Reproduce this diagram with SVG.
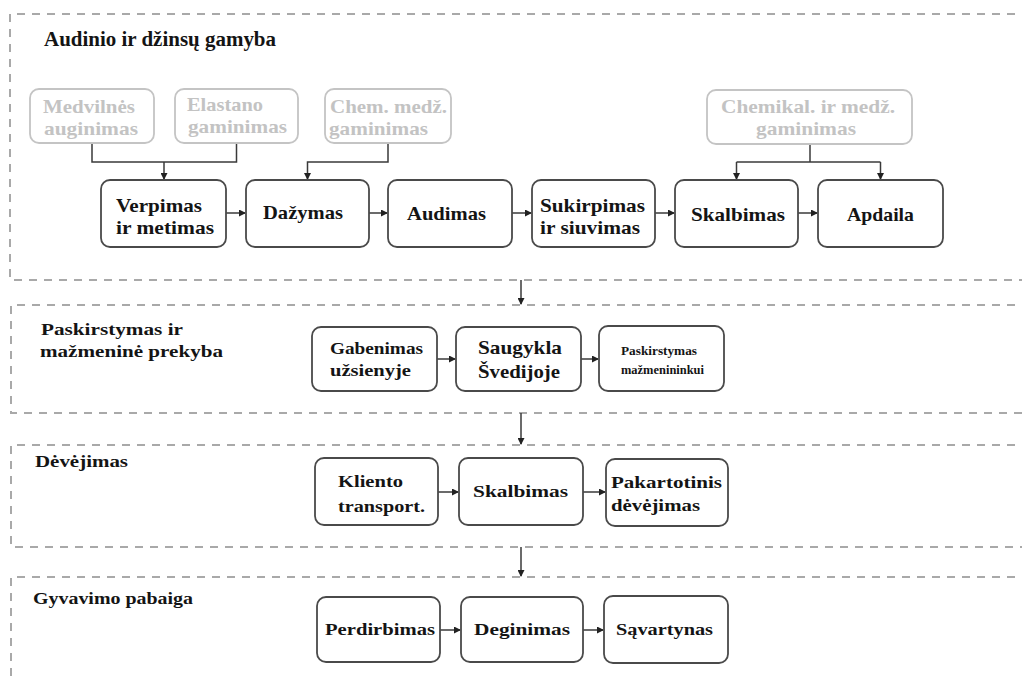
<svg xmlns="http://www.w3.org/2000/svg" width="1022" height="677" viewBox="0 0 1022 677">
  <style>
    .frame { fill: none; stroke: #a9a9a9; stroke-width: 2; stroke-dasharray: 8 7; }
    .box { fill: #ffffff; stroke: #4a4a4a; stroke-width: 1.8; }
    .src { fill: #ffffff; stroke: #c4c4c4; stroke-width: 1.8; }
    .lbl { font-family: "Liberation Serif", "Times New Roman", serif; font-weight: bold; fill: #141414; }
    .glbl { font-family: "Liberation Serif", "Times New Roman", serif; font-weight: bold; fill: #c3c3c3; }
    .title { font-family: "Liberation Serif", "Times New Roman", serif; font-weight: bold; fill: #141414; }
    .link { fill: none; stroke: #3a3a3a; stroke-width: 1.5; }
    .flow { fill: none; stroke: #3a3a3a; stroke-width: 1.5; marker-end: url(#head); }
  </style>
  <defs>
    <marker id="head" markerUnits="userSpaceOnUse" markerWidth="7" markerHeight="7" refX="6" refY="3.5" orient="auto">
      <path d="M0,0 L7,3.5 L0,7 z" fill="#222"/>
    </marker>
  </defs>

  <rect width="1022" height="677" fill="#ffffff"/>

  <!-- stage frames (open on the right) -->
  <g id="frames">
    <path class="frame" d="M1030,14 H10 V280 H1030"/>
    <path class="frame" d="M1030,305 H11 V413 H1030"/>
    <path class="frame" d="M1030,445 H11 V547 H1030"/>
    <path class="frame" d="M1030,577 H11 V690"/>
  </g>

  <!-- stage titles -->
  <g id="stage-titles">
    <text class="title" x="44" y="46" font-size="20" textLength="232" lengthAdjust="spacingAndGlyphs">Audinio ir džinsų gamyba</text>
    <text class="title" x="41" y="335" font-size="17.5" textLength="142" lengthAdjust="spacingAndGlyphs">Paskirstymas ir</text>
    <text class="title" x="40" y="357" font-size="17.5" textLength="183" lengthAdjust="spacingAndGlyphs">mažmeninė prekyba</text>
    <text class="title" x="35" y="467" font-size="17" textLength="93" lengthAdjust="spacingAndGlyphs">Dėvėjimas</text>
    <text class="title" x="33" y="604" font-size="17" textLength="160" lengthAdjust="spacingAndGlyphs">Gyvavimo pabaiga</text>
  </g>

  <!-- connectors -->
  <g id="connectors">
    <path class="link" d="M92,143 V162 H236.5 V143"/>
    <path class="flow" d="M164,162 V179"/>
    <path class="flow" d="M388,143 V162 H307.5 V179"/>
    <path class="link" d="M810,144 V162"/>
    <path class="link" d="M736.5,162 H880.5"/>
    <path class="flow" d="M736.5,162 V179"/>
    <path class="flow" d="M880.5,162 V179"/>

    <path class="flow" d="M226,213 H245"/>
    <path class="flow" d="M369,213 H387"/>
    <path class="flow" d="M512,213 H531"/>
    <path class="flow" d="M655,213 H674"/>
    <path class="flow" d="M798,213 H817"/>

    <path class="flow" d="M437,359 H455"/>
    <path class="flow" d="M581,359 H598"/>

    <path class="flow" d="M438,492 H458"/>
    <path class="flow" d="M583,492 H605"/>

    <path class="flow" d="M440,630 H460"/>
    <path class="flow" d="M583,630 H603"/>

    <path class="flow" d="M521,280 V304"/>
    <path class="flow" d="M521,413 V444"/>
    <path class="flow" d="M521,547 V576"/>
  </g>

  <!-- raw material sources -->
  <g id="n-medvilnes">
    <rect class="src" x="30" y="89" width="124" height="54" rx="9"/>
    <text class="glbl" x="43" y="113" font-size="19" textLength="92" lengthAdjust="spacingAndGlyphs">Medvilnės</text>
    <text class="glbl" x="44" y="135" font-size="19" textLength="94" lengthAdjust="spacingAndGlyphs">auginimas</text>
  </g>
  <g id="n-elastano">
    <rect class="src" x="175" y="89" width="123" height="54" rx="9"/>
    <text class="glbl" x="187" y="111" font-size="19" textLength="76" lengthAdjust="spacingAndGlyphs">Elastano</text>
    <text class="glbl" x="188" y="133" font-size="19" textLength="99" lengthAdjust="spacingAndGlyphs">gaminimas</text>
  </g>
  <g id="n-chem">
    <rect class="src" x="325" y="89" width="126" height="54" rx="9"/>
    <text class="glbl" x="330" y="113" font-size="19" textLength="117" lengthAdjust="spacingAndGlyphs">Chem. medž.</text>
    <text class="glbl" x="329" y="135" font-size="19" textLength="99" lengthAdjust="spacingAndGlyphs">gaminimas</text>
  </g>
  <g id="n-chemikal">
    <rect class="src" x="707" y="90" width="205" height="54" rx="9"/>
    <text class="glbl" x="721" y="113" font-size="19" textLength="174" lengthAdjust="spacingAndGlyphs">Chemikal. ir medž.</text>
    <text class="glbl" x="756" y="135" font-size="19" textLength="100" lengthAdjust="spacingAndGlyphs">gaminimas</text>
  </g>

  <!-- fabric and jeans production -->
  <g id="n-verpimas">
    <rect class="box" x="101" y="180" width="125" height="67" rx="9"/>
    <text class="lbl" x="116" y="212" font-size="19" textLength="86" lengthAdjust="spacingAndGlyphs">Verpimas</text>
    <text class="lbl" x="116" y="234" font-size="19" textLength="98" lengthAdjust="spacingAndGlyphs">ir metimas</text>
  </g>
  <g id="n-dazymas">
    <rect class="box" x="246" y="180" width="123" height="67" rx="9"/>
    <text class="lbl" x="263" y="219" font-size="19" textLength="80" lengthAdjust="spacingAndGlyphs">Dažymas</text>
  </g>
  <g id="n-audimas">
    <rect class="box" x="388" y="180" width="124" height="67" rx="9"/>
    <text class="lbl" x="407" y="220" font-size="19" textLength="79" lengthAdjust="spacingAndGlyphs">Audimas</text>
  </g>
  <g id="n-sukirpimas">
    <rect class="box" x="532" y="180" width="123" height="67" rx="9"/>
    <text class="lbl" x="540" y="212" font-size="19" textLength="105" lengthAdjust="spacingAndGlyphs">Sukirpimas</text>
    <text class="lbl" x="540" y="234" font-size="19" textLength="100" lengthAdjust="spacingAndGlyphs">ir siuvimas</text>
  </g>
  <g id="n-skalbimas">
    <rect class="box" x="675" y="180" width="123" height="67" rx="9"/>
    <text class="lbl" x="691" y="221" font-size="19" textLength="94" lengthAdjust="spacingAndGlyphs">Skalbimas</text>
  </g>
  <g id="n-apdaila">
    <rect class="box" x="818" y="180" width="125" height="67" rx="9"/>
    <text class="lbl" x="847" y="221" font-size="19" textLength="67" lengthAdjust="spacingAndGlyphs">Apdaila</text>
  </g>

  <!-- distribution and retail -->
  <g id="n-gabenimas">
    <rect class="box" x="312" y="327" width="125" height="64" rx="9"/>
    <text class="lbl" x="330" y="354" font-size="17.5" textLength="93" lengthAdjust="spacingAndGlyphs">Gabenimas</text>
    <text class="lbl" x="330" y="376" font-size="17.5" textLength="81" lengthAdjust="spacingAndGlyphs">užsienyje</text>
  </g>
  <g id="n-saugykla">
    <rect class="box" x="456" y="327" width="125" height="64" rx="9"/>
    <text class="lbl" x="478" y="354" font-size="19" textLength="84" lengthAdjust="spacingAndGlyphs">Saugykla</text>
    <text class="lbl" x="478" y="378" font-size="19" textLength="82" lengthAdjust="spacingAndGlyphs">Švedijoje</text>
  </g>
  <g id="n-paskirstymas">
    <rect class="box" x="599" y="326" width="125" height="65" rx="9"/>
    <text class="lbl" x="621" y="355" font-size="12" textLength="76" lengthAdjust="spacingAndGlyphs">Paskirstymas</text>
    <text class="lbl" x="621" y="374" font-size="12" textLength="83" lengthAdjust="spacingAndGlyphs">mažmenininkui</text>
  </g>

  <!-- use -->
  <g id="n-kliento">
    <rect class="box" x="315" y="458" width="123" height="67" rx="9"/>
    <text class="lbl" x="338" y="487" font-size="17" textLength="65" lengthAdjust="spacingAndGlyphs">Kliento</text>
    <text class="lbl" x="338" y="512" font-size="17" textLength="87" lengthAdjust="spacingAndGlyphs">transport.</text>
  </g>
  <g id="n-skalbimas-2">
    <rect class="box" x="459" y="458" width="124" height="67" rx="9"/>
    <text class="lbl" x="473" y="497" font-size="17" textLength="95" lengthAdjust="spacingAndGlyphs">Skalbimas</text>
  </g>
  <g id="n-pakartotinis">
    <rect class="box" x="606" y="459" width="122" height="67" rx="9"/>
    <text class="lbl" x="611" y="488" font-size="17" textLength="111" lengthAdjust="spacingAndGlyphs">Pakartotinis</text>
    <text class="lbl" x="611" y="511" font-size="17" textLength="89" lengthAdjust="spacingAndGlyphs">dėvėjimas</text>
  </g>

  <!-- end of life -->
  <g id="n-perdirbimas">
    <rect class="box" x="317" y="597" width="123" height="65" rx="9"/>
    <text class="lbl" x="325" y="635" font-size="17" textLength="110" lengthAdjust="spacingAndGlyphs">Perdirbimas</text>
  </g>
  <g id="n-deginimas">
    <rect class="box" x="461" y="597" width="122" height="65" rx="9"/>
    <text class="lbl" x="474" y="635" font-size="17" textLength="96" lengthAdjust="spacingAndGlyphs">Deginimas</text>
  </g>
  <g id="n-savartynas">
    <rect class="box" x="604" y="596" width="124" height="67" rx="9"/>
    <text class="lbl" x="616" y="635" font-size="17" textLength="97" lengthAdjust="spacingAndGlyphs">Sąvartynas</text>
  </g>
</svg>
